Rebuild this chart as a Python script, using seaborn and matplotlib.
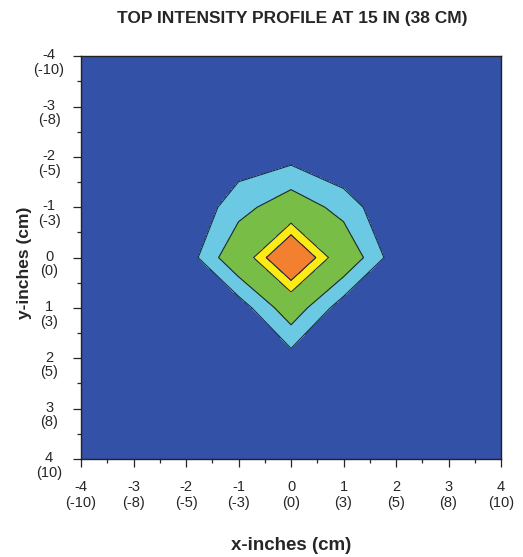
import numpy as np
import matplotlib
matplotlib.use("Agg")
import matplotlib.pyplot as plt
import matplotlib.transforms as mtransforms
import seaborn as sns

x_in = [-4, -3, -2, -1, 0, 1, 2, 3, 4]
y_in = [-4, -3, -2, -1, 0, 1, 2, 3, 4]
cm_labels = ["(-10)", "(-8)", "(-5)", "(-3)", "(0)", "(3)", "(5)", "(8)", "(10)"]

row_m4 = [0, 0, 0, 0, 0, 0, 0, 0, 0]
row_m3 = [0, 0, 0, 0, 0, 0, 0, 0, 0]
row_m2 = [0, 0, 0, 0, 3, -5, 0, 0, 0]
row_m1 = [0, 0, -4, 14, 27, 14, -5, 0, 0]
row_0 = [0, 0, 0, 30, 100, 30, 0, 0, 0]
row_p1 = [0, 0, 0, 0, 27, 0, 0, 0, 0]
row_p2 = [0, 0, 0, 0, 2, 0, 0, 0, 0]
row_p3 = [0, 0, 0, 0, 0, 0, 0, 0, 0]
row_p4 = [0, 0, 0, 0, 0, 0, 0, 0, 0]

levels = [-10, 6.9, 18.6, 50, 67, 101]
band_colors = ["#3451a8", "#6cc9e3", "#78bd45", "#fbec16", "#f3802f"]

sns.set_style("ticks")
plt.rcParams['font.family'] = ['Liberation Sans', 'DejaVu Sans']

z = np.array([row_m4, row_m3, row_m2, row_m1, row_0, row_p1, row_p2, row_p3, row_p4])
X, Y = np.meshgrid(x_in, y_in)

fig = plt.figure(figsize=(5.23, 5.57), dpi=100)
ax = fig.add_axes([0.155, 0.176, 0.803, 0.723])

ax.contourf(X, Y, z, levels=levels, colors=band_colors)
ax.contour(X, Y, z, levels=levels[1:-1], colors="#1a2a40", linewidths=0.8)

ax.set_xlim(-4, 4)
ax.set_ylim(4, -4)

tick_text = [f"{v}\n{c}" for v, c in zip(x_in, cm_labels)]
ax.set_xticks(x_in)
ax.set_xticklabels(tick_text, fontsize=10.5, linespacing=1.15)
ax.set_yticks(y_in)
ax.set_yticklabels(tick_text, fontsize=10.5, linespacing=1.05, ha="center", va="center")
ax.set_xticks(np.arange(-3.5, 4, 1), minor=True)
ax.set_yticks(np.arange(-3.5, 4, 1), minor=True)
ax.tick_params(which="major", length=5.5, width=0.9, direction="out")
ax.tick_params(which="minor", length=3, width=0.9, direction="out")
ax.tick_params(axis="x", which="major", pad=10)
ax.tick_params(axis="y", which="major", pad=17.5)

# first line of each y label sits on its tick, the cm value below it
shift = mtransforms.ScaledTranslation(0, -0.065, fig.dpi_scale_trans)
for lab in ax.get_yticklabels():
    lab.set_transform(lab.get_transform() + shift)

for s in ax.spines.values():
    s.set_linewidth(1.0)
    s.set_color("#222222")

ax.set_xlabel("x-inches (cm)", fontsize=13.5, fontweight="bold", labelpad=19)
ax.set_ylabel("y-inches (cm)", fontsize=12.5, fontweight="bold")
ax.yaxis.set_label_coords(-0.117, 0.487)
fig.text(0.558, 0.967, "TOP INTENSITY PROFILE AT 15 IN (38 CM)", ha="center", va="center",
         fontsize=12.5, fontweight="bold")

fig.savefig("out.png", dpi=100)
